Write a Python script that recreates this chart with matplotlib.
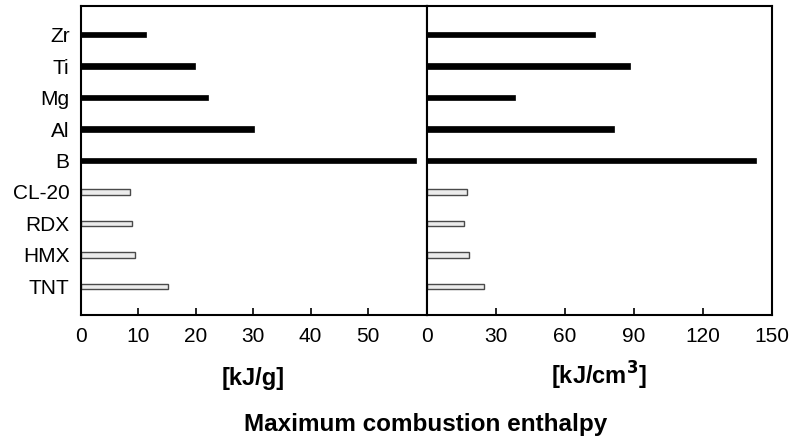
import numpy as np
import matplotlib
matplotlib.use("Agg")
import matplotlib.pyplot as plt

plt.rcParams['font.family'] = ['Liberation Sans', 'DejaVu Sans']

# categories top -> bottom
labels = ["Zr", "Ti", "Mg", "Al", "B", "CL-20", "RDX", "HMX", "TNT"]
metals = ["Zr", "Ti", "Mg", "Al", "B"]

# maximum combustion enthalpy
per_mass = [11.3, 19.8, 22.1, 30.2, 58.3, 8.5, 9.0, 9.5, 15.2]      # kJ/g
per_volume = [73.0, 88.5, 38.5, 81.3, 143.0, 17.3, 16.4, 18.4, 25.0]  # kJ/cm3

ypos = np.arange(len(labels))[::-1]
is_metal = [l in metals for l in labels]

fig = plt.figure(figsize=(7.91, 4.38), dpi=100)
W, H = 791, 438
top, bot = 6, 315
ax1 = fig.add_axes([80.7 / W, (H - bot) / H, 346 / W, (bot - top) / H])
ax2 = fig.add_axes([426.7 / W, (H - bot) / H, 345.3 / W, (bot - top) / H])

bar_h = 0.17
for ax, vals in ((ax1, per_mass), (ax2, per_volume)):
    for y, v, m in zip(ypos, vals, is_metal):
        if m:
            ax.barh(y, v, height=bar_h, color="black", edgecolor="black", linewidth=0.5)
        else:
            ax.barh(y, v, height=bar_h, color="#ececec", edgecolor="#4a4a4a", linewidth=1.0)
    ax.set_ylim(-0.91, 8.91)
    for s in ax.spines.values():
        s.set_linewidth(1.5)
    ax.tick_params(axis="x", direction="in", length=5, width=1.2, labelsize=15, pad=9)
    ax.tick_params(axis="y", length=0)

ax1.set_xlim(0, 60.2)
ax1.set_xticks([0, 10, 20, 30, 40, 50])
ax1.set_yticks(ypos)
ax1.set_yticklabels(labels, fontsize=15)
ax1.tick_params(axis="y", pad=8)

ax2.set_xlim(0, 150)
ax2.set_xticks([0, 30, 60, 90, 120, 150])
ax2.set_yticks([])

# unit labels on a shared baseline
fig.text(253.5 / W, 1 - 385 / H, "[kJ/g]", ha="center", va="baseline",
         fontsize=17, fontweight="bold")
fig.text(599 / W, 1 - 385 / H, "[kJ/cm$^\\mathbf{3}$]", ha="center", va="baseline",
         fontsize=17, fontweight="bold")

fig.text(426 / W, 1 - 424 / H, "Maximum combustion enthalpy", ha="center", va="center",
         fontsize=17.5, fontweight="bold")

fig.savefig("out.png", dpi=100)
